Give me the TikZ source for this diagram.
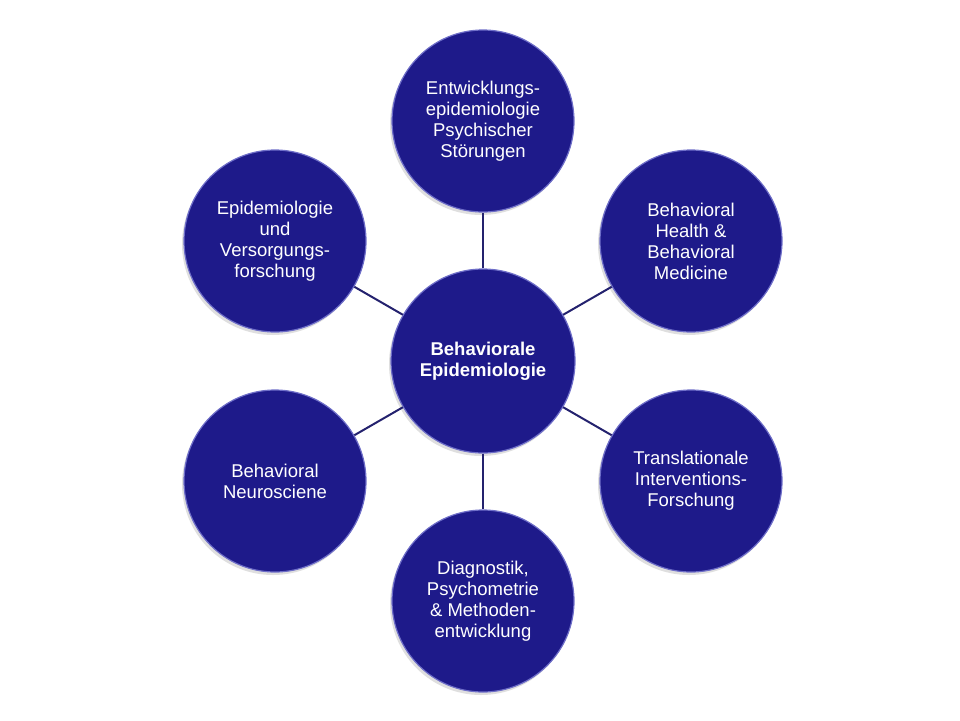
\documentclass[tikz,border=0pt]{standalone}
\usepackage{fontspec}
\setmainfont{Liberation Sans}
\usepackage{tikz}
\usetikzlibrary{shadows}
\definecolor{bubblefill}{RGB}{30, 26, 138}
\definecolor{bubbleedge}{RGB}{110, 110, 200}
\definecolor{linkline}{RGB}{36, 34, 110}

\begin{document}
\begin{tikzpicture}[x=1pt, y=-1pt,
		bubble/.style={circle, fill=bubblefill, draw=bubbleedge, line width=1.2pt,
			minimum size=2*\ringR pt, inner sep=0pt, text=white, align=center,
			font=\fontsize{18.5}{21}\selectfont,
			drop shadow={shadow xshift=-2pt, shadow yshift=-3pt, fill=black!25, opacity=0.5}},
		link/.style={linkline, line width=2pt}]
			\def\ringR{91}
			\def\coreR{92}
			
			\useasboundingbox (0,0) rectangle (960,720);
			
			% centre
			\node[bubble, minimum size=2*\coreR pt, font=\bfseries\fontsize{18.5}{21}\selectfont] (core) at (483, 361) {Behaviorale\\Epidemiologie};
			
			% outer ring
			\node[bubble] (devel) at (483, 121) {Entwicklungs-\\epidemiologie\\Psychischer\\Störungen};
			\node[bubble] (health) at (691, 241) {Behavioral\\Health \&\\Behavioral\\Medicine};
			\node[bubble] (transl) at (691, 481) {Translationale\\Interventions-\\Forschung};
			\node[bubble] (diagn) at (483, 601) {Diagnostik,\\Psychometrie\\\& Methoden-\\entwicklung};
			\node[bubble] (neuro) at (275, 481) {Behavioral\\Neurosciene};
			\node[bubble] (care) at (275, 241) {Epidemiologie\\und\\Versorgungs-\\forschung};
			
			% links
			\draw[link] (core) -- (devel);
			\draw[link] (core) -- (health);
			\draw[link] (core) -- (transl);
			\draw[link] (core) -- (diagn);
			\draw[link] (core) -- (neuro);
			\draw[link] (core) -- (care);

		\end{tikzpicture}
\end{document}
